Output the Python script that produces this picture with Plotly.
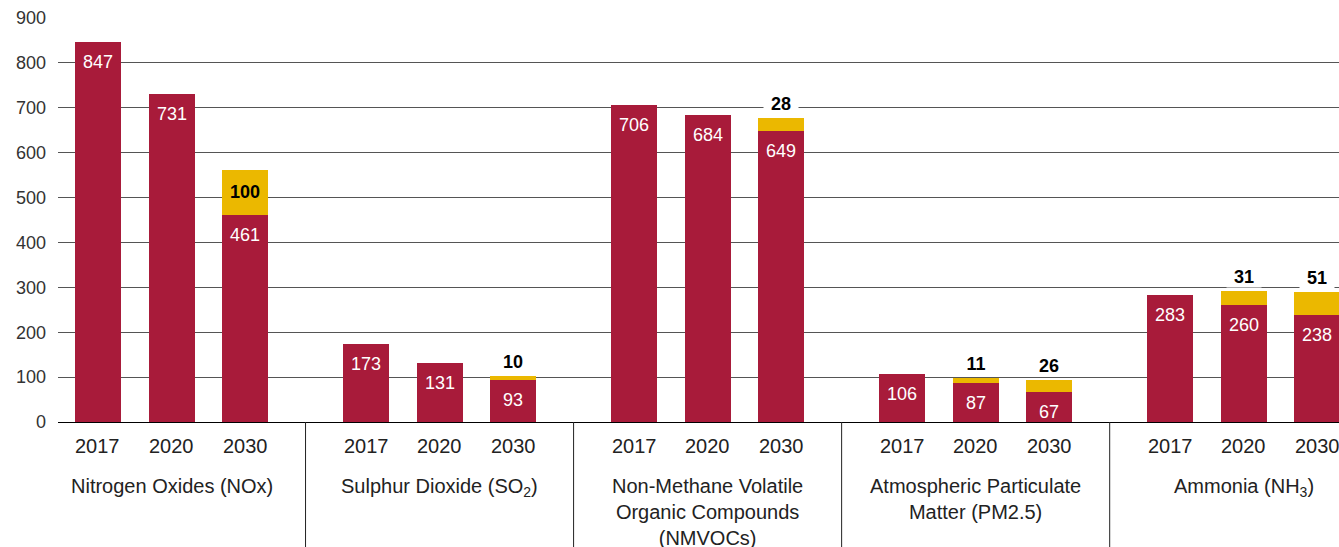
import plotly.graph_objects as go

# ---- data ----
groups = [
    "Nitrogen Oxides (NOx)",
    "Sulphur Dioxide (SO<sub>2</sub>)",
    "Non-Methane Volatile<br>Organic Compounds<br>(NMVOCs)",
    "Atmospheric Particulate<br>Matter (PM2.5)",
    "Ammonia (NH<sub>3</sub>)",
]
years = ["2017", "2020", "2030"]
base_values = [847, 731, 461, 173, 131, 93, 706, 684, 649, 106, 87, 67, 283, 260, 238]
extra_values = [0, 0, 100, 0, 0, 10, 0, 0, 28, 0, 11, 26, 0, 31, 51]
y_ticks = [0, 100, 200, 300, 400, 500, 600, 700, 800, 900]

RED = "#A81B3A"
YELLOW = "#EBB800"
FONT = "Liberation Sans"
GSTEP = 3.646  # group spacing in bar slots

xpos = []
for g in range(len(groups)):
    for i in range(len(years)):
        xpos.append(g * GSTEP + i)

fig = go.Figure()
fig.add_bar(x=xpos, y=base_values, marker_color=RED, width=0.626,
            marker_line_width=0, hoverinfo="skip")
fig.add_bar(x=xpos, y=extra_values, marker_color=YELLOW, width=0.626,
            marker_line_width=0, hoverinfo="skip")

ann = []
for x, b, e in zip(xpos, base_values, extra_values):
    ann.append(dict(x=x, y=b, yref="y", xref="x", text=str(b), showarrow=False,
                    yshift=-20, yanchor="middle",
                    font=dict(family=FONT, size=18, color="white")))
    if e > 0:
        if e * 0.449 > 40:
            ann.append(dict(x=x, y=b + e / 2, text="<b>%d</b>" % e, showarrow=False,
                            yanchor="middle", yshift=1,
                            font=dict(family=FONT, size=18, color="black")))
        else:
            ann.append(dict(x=x, y=b + e, text="<b>%d</b>" % e, showarrow=False,
                            yanchor="middle", yshift=14, bgcolor="white",
                            width=34, height=20, borderpad=0,
                            font=dict(family=FONT, size=18, color="black")))

for i, x in enumerate(xpos):
    ann.append(dict(x=x, y=0, text=years[i % 3], showarrow=False,
                    yanchor="middle", yshift=-24,
                    font=dict(family=FONT, size=20, color="#222")))

for g, name in enumerate(groups):
    ann.append(dict(x=g * GSTEP + 1, y=0, text=name, showarrow=False,
                    yanchor="top", yshift=-51,
                    font=dict(family=FONT, size=20, color="#222")))

shapes = []
for g in range(1, len(groups)):
    sx = g * GSTEP - (GSTEP - 2) / 2
    shapes.append(dict(type="line", xref="x", yref="paper", x0=sx, x1=sx,
                       y0=0, y1=-0.32, line=dict(color="#222", width=1)))

fig.update_layout(
    barmode="stack",
    width=1339, height=547,
    margin=dict(l=58, r=0, t=18, b=125),
    plot_bgcolor="white", paper_bgcolor="white",
    showlegend=False,
    annotations=ann,
    shapes=shapes,
    xaxis=dict(range=[-0.544, 16.88], showgrid=False, showticklabels=False,
               zeroline=False, showline=False, fixedrange=True),
    yaxis=dict(range=[0, 900], tickvals=y_ticks, showgrid=True,
               gridcolor="#555", gridwidth=1, zeroline=True,
               zerolinecolor="black", zerolinewidth=1.3,
               ticklabelstandoff=11,
               tickfont=dict(family=FONT, size=18, color="#333")),
)

fig.write_html("out.html", config={"displayModeBar": False},
               post_script="document.body.style.margin='0';")
